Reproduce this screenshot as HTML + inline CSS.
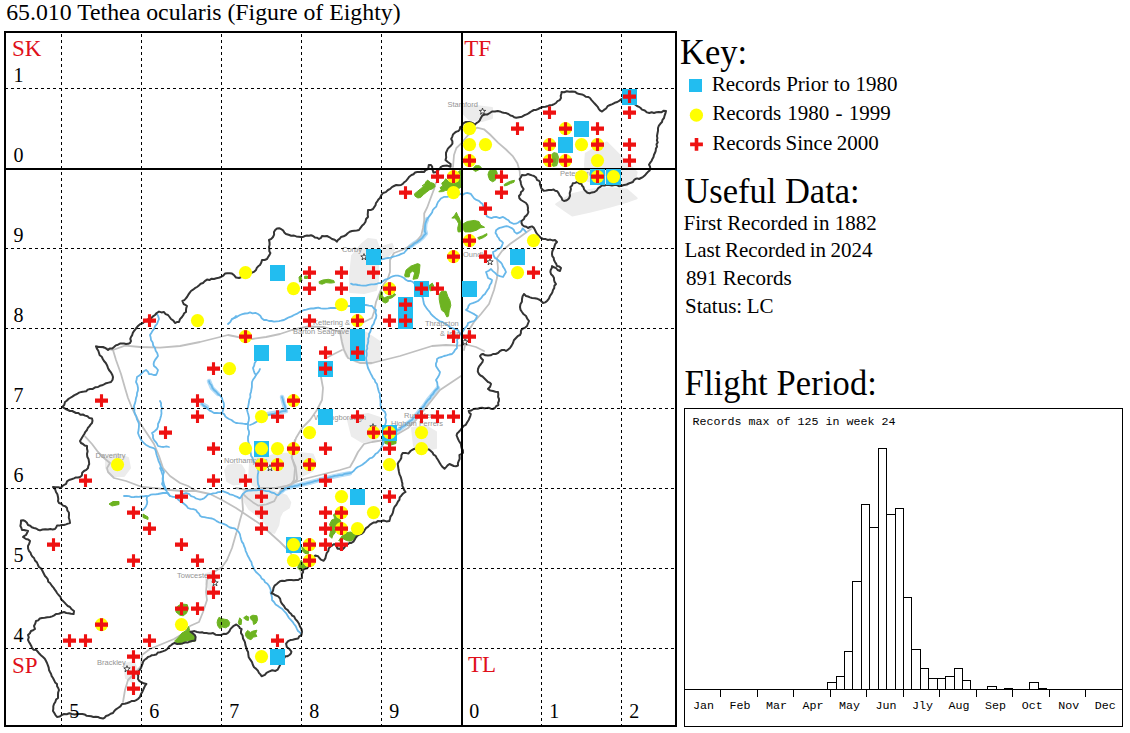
<!DOCTYPE html>
<html><head><meta charset="utf-8"><title>65.010 Tethea ocularis</title>
<style>html,body{margin:0;padding:0;background:#fff}svg{display:block}text{font-family:"Liberation Serif",serif}.m{font-family:"Liberation Mono",monospace}.s{font-family:"Liberation Sans",sans-serif}</style></head><body>
<svg width="1130" height="733" viewBox="0 0 1130 733">
<rect width="1130" height="733" fill="#fff"/>
<text x="6.2" y="20.2" font-size="23.8">65.010 Tethea ocularis (Figure of Eighty)</text>
<clipPath id="mc"><rect x="5" y="32" width="671" height="693.4"/></clipPath>
<g clip-path="url(#mc)">
<g fill="#ececec" stroke="#ececec" stroke-width="2" stroke-linejoin="round">
<polygon points="464,107 476,106 492,108 492,118 482,121 470,120 464,114"/>
<polygon points="585.8,153.5 594.5,148.6 606.9,142.4 615.6,151.1 626.7,162.2 636.7,172.1 635.4,178.3 626.7,185.8 620.5,185.8 600,185 586,180 585,165"/>
<polygon points="556.1,204.3 571,194.4 592,189.5 609.4,188.2 626.7,189.5 636.7,198.2 626.7,201.9 609.4,206.8 589.6,211.8 572.2,215.5 564.8,210.5"/>
<polygon points="362,244 368,239 376,240 379,248 392,244 394,250 388,256 378,262 378,280 376,290 364,293 350,292 350,276 352,256"/>
<polygon points="340,330 348,328 360,330 368,334 380,342 380,360 370,364 356,362 346,356 342,344"/>
<polygon points="348,420 356,416 368,414 380,418 382,432 376,440 362,442 352,436"/>
<polygon points="412,428 426,426 436,432 436,448 426,450 414,446"/>
<polygon points="225.2,470.5 227.9,465.9 234.5,463.9 241.2,465.2 244.5,470.5 243.8,478.5 239.8,483.8 233.2,484.5 227.2,481.1"/>
<polygon points="250.4,459.9 255.8,457.3 269,456.6 274.3,454.6 292.9,453.3 302.2,453.3 312.8,454.6 315.5,461.2 312.8,470.5 304.9,474.5 298.2,478.5 292.9,483.8 285,487.8 274.3,488.5 261.1,488.5 253.1,485.1 249.1,477.2 249.8,466.5"/>
<polygon points="243.8,490.4 255.8,489.1 269,489.8 278.3,493.1 286.3,495.8 290.3,502.4 288.9,507.7 282.3,511.7 279.6,517 278.3,525 274.3,532.9 269,531.6 266.4,525 262.4,519.6 255.8,514.3 249.1,509 245.1,502.4 243.1,495.8"/>
<polygon points="106,458 116,454 128,458 130,468 124,476 112,476 106,468"/>
<polygon points="206,574 214,572 216,582 210,590 206,584"/>
<polygon points="124,664 134,662 138,672 132,682 126,678"/>
</g>
<g fill="none" stroke="#b4dcf7" stroke-width="4.5" stroke-linecap="round" stroke-linejoin="round">
<path d="M427.1 219.2 L425.3 223.8 L424.8 229.6 L425.9 233.6 L422.5 237.6 L419 240.5 L414.4 243.4 L409.8 246.9"/>
<path d="M209 381 L212 388 L218 394"/>
<path d="M202 404 L207 407"/>
<path d="M282 397 L285 408"/>
<path d="M268 414 L286 411"/>
<path d="M438 388 L433 394 L428 400 L424 406 L418 413 L412 420 L404 426 L396 432 L390 436"/>
<path d="M350 473.2 L339.4 475.2 L330.1 477.2 L319.5 479.8 L310.2 482.5 L302.2 484.5 L292.9 486.5 L285 488.5 L281 491.8"/>
</g>
<g fill="none" stroke="#c0c0c0" stroke-width="1.8" stroke-linecap="round" stroke-linejoin="round">
<path d="M296.9 479.8 L290.3 485.1 L282.3 489.1 L277 495.8 L274.3 501.1 L266.4 504.4 L258.4 505.7 L253.1 502.4 L247.8 498.4 L243 494"/>
<path d="M294.9 440 L292.9 448 L291.6 457.3 L295.6 466.5 L296.9 477.2 L296.9 479.8"/>
<path d="M453 167 L454 155 L456.4 148 L461 143.7 L469 134 L477 127.6 L484 129.3 L490 134.5 L498 142.6 L506 149.5 L513 156.4 L517.4 163.3 L519.7 171.3 L520 176"/>
<path d="M531 229 L520 237 L510 244 L502 251 L497 258 L498 268 L497 278 L494 290 L489 304 L481 314 L474 322 L469 330 L466 340 L464 350"/>
<path d="M435.7 183 L434 189.3 L430.5 198.5 L427.1 207.7 L424.2 213.5 L424.2 220.4 L423 228 L421.3 235.3 L416 242 L410 246 L402 250 L394 253 L390 260 L390 272 L388 278 L384 284 L380 292 L376 302 L374 312 L372 318 L364 322 L356 324"/>
<path d="M96 346 L113 350 L125 345.6 L140 347 L160 347.6 L180 346 L200 342 L216 338 L228 335 L238 337 L252 339 L266 337 L280 334 L292 330 L308 326.5 L324 327 L340 332 L342 342 L344 350 L348 358 L360 363 L372 363 L384 360 L400 356 L416 351 L432 346 L446 345 L458 345.6 L468 345 L476 347 L484 351"/>
<path d="M342 350 L334 354 L326 358"/>
<path d="M113 350 L116 360 L121 374 L125 388 L128 398 L132 408 L138 420 L146 432 L154 444 L159 456 L163 468 L170 476 L180 483 L188 486 L196 491 L210 494 L222 500 L236 508 L248 516 L260 524 L270 533 L280 542 L288 550 L296 560 L300 569 L302 576"/>
<path d="M85 436.4 L92 444 L98 452 L104 458 L110 463 L107 468 L108 472 L114 478 L126 481 L134 484 L142 487 L158 488.4 L170 490 L182 491 L196 491"/>
<path d="M236 488 L248 490 L262 488 L276 488 L286 486 L296 482 L304 479 L316 476 L328 473 L340 470 L350 467 L354 460 L358 452 L364 444 L372 442 L384 440 L396 435 L408 428 L416 420 L424 410 L432 400 L440 390 L452 382 L461 376"/>
<path d="M321 377 L323 388 L322 400 L317 410 L310 420 L302 428 L296 438 L293 448 L292 458 L295 468 L294 480 L290 486"/>
<path d="M236 534 L232 548 L227 560 L222 567 L214 572 L207 580 L206 592 L207 600 L205 606 L203 612 L199 622 L190 626 L184 633 L174 639 L162 644 L150 649 L142 655 L141 666 L134 674 L128 680 L125 690 L123 702"/>
<path d="M242 496 L243 510 L240 520 L238 528 L236 534"/>
</g>
<g fill="none" stroke="#68b8ea" stroke-width="1.8" stroke-linecap="round" stroke-linejoin="round">
<path d="M463.3 194.5 L465.1 193.3 L467.3 192.8 L470.8 193.9 L472.5 196.2 L474.2 198.5 L476.4 199.9 L478.9 200.8 L480.5 202.4 L482.3 203.7 L483.4 206.5 L485 209 L485.7 211.4 L485.9 214 L486.9 216.4 L489.2 217.3 L491.5 218.1 L493.7 217.1 L496.1 216.9 L499.6 218.1 L503 216.9 L504.8 218 L506.5 219.2 L508.5 220.3 L509.9 222.1 L513.4 223.8 L515.8 223.7 L518 222.7 L520.3 221"/>
<path d="M526 232 L524.4 230.1 L522.6 228.4 L521.7 230.3 L520.3 231.9 L516.8 233.6 L514.5 231.9 L513.8 229.9 L512.2 228.4 L508.8 226.7 L506.5 226.2 L504.2 226.7 L501.9 227.3 L499.6 227.9 L497.8 228.9 L496.1 230.2 L495.5 233 L496.7 234.6 L497.3 236.5 L498.7 238 L499.6 239.9 L501.5 241.2 L503 242.8 L501.9 245.7 L500.6 248 L498.7 248.6 L497 249.5 L495.2 251 L493 252 L493.5 255.2 L495 258 L497.1 259.1 L498.7 260.7 L500.5 262.2 L502 264 L503.1 266.8 L504.8 269.3 L506 272 L504.5 274.5 L503 277 L499.9 276.2 L497 275 L495.1 272.9 L492.9 271.1 L491 269 L488.7 270.8 L486 272 L487.1 275 L488 278 L490.1 278.8 L492 280 L491.4 282.8 L489.7 285.2 L489 288 L487.5 289.9 L486.2 291.9 L485 294 L483 295.5 L481.6 297.6 L479.8 299.3 L478 301 L475.4 302.1 L472.7 303.1 L470 304 L468.5 305.9 L467.8 308.3 L466 310 L468 311 L470 312 L472 313 L474.6 314.4 L477 316 L476 318.8 L474 321 L470.9 321.8 L468 323 L467.5 325.2 L466 327 L464.4 328.7 L463.3 330.7 L461.9 332.6 L460 334 L459.3 336.2 L458.4 338.2 L457 340 L457.4 342.7 L456.8 345.3 L457 348 L455.1 349.8 L453.8 352.1 L452 354 L449.3 354.5 L446.7 355.4 L444 356 L441.7 357 L439.2 357.6 L437 359 L436.9 361.4 L435.9 363.6 L436 366 L437.2 368.1 L438.5 370.1 L440 372 L439.2 374.9 L437.7 377.5 L436 380 L437.2 382.5 L437.5 385.3 L438 388 L436 389.7 L434.3 391.7 L433 394 L431 395.8 L430 398.3 L428 400 L426.5 401.9 L425.1 403.8 L424 406 L421.7 408.3 L420 411 L418.2 412.6 L417.1 414.9 L415.5 416.6 L413.4 418 L412 420 L409.8 421.3 L407.7 422.7 L406 424.5 L404 426 L401.7 427.2 L400.2 429.3 L397.7 430.1 L396 432 L393.7 433.2 L392.1 435.1 L390.3 436.9 L388 438 L386.3 440 L384.5 441.9 L383 444 L381.8 446.4 L380.8 448.9 L379 451 L377.5 452.8 L375.4 454.1 L374 456 L372.2 457.7 L369.7 458.3 L368 460 L366.2 461.7 L364.2 463.3 L362.3 464.8 L360 466 L357.7 467 L355.7 468.5 L354.1 470.5 L352.3 472.1 L350 473.2 L347.3 473.5 L344.6 473.8 L342.1 475.2 L339.4 475.2 L337 475.6 L334.7 475.8 L332.4 476.7 L330.1 477.2 L327.4 477.8 L324.7 478.2 L322.2 479.4 L319.5 479.8 L317.2 480.7 L314.8 481 L312.5 481.8 L310.2 482.5 L307.5 483.1 L304.9 484 L302.2 484.5 L299.8 484.5 L297.6 485.7 L295.2 485.8 L292.9 486.5 L290.2 486.7 L287.7 487.9 L285 488.5 L283.3 490.5 L281 491.8 L279.9 493.6 L278.3 495.1 L276.1 494.5 L274.3 493.1 L271.5 492.5 L269 491.1 L266.3 491.1 L263.7 490.4 L261.1 489.8 L258.4 490.1 L255.8 490.3 L253.1 490.4 L250.9 490.5 L248.7 490.7 L246.5 491.1 L244.4 492.6 L242.5 494.4 L241.3 496.5 L239.8 498.4 L237.2 496.9 L234.5 495.8 L232.3 494.8 L229.9 494.4 L227.9 493.1 L225.3 492.1 L222.6 491.1 L220.4 492 L218.1 492.2 L215.9 493.1 L213.2 493.3 L210.7 494.2 L208 494.4 L206.1 496.5 L204 498.4 L202 499.1 L200 499.7 L197.9 499 L195.8 498.4 L194 497 L191.1 496.1 L188.9 493.8 L186 493 L183.4 493.8 L181 495.1 L178.4 495.8 L176 497 L173 496.8 L170 496 L168 493 L165.5 493 L163 493 L160.5 493.5 L158 494 L155.6 494.4 L153.1 494.3 L150.7 494.7 L148.5 496.1 L146 496 L143.6 496.3 L141.2 496.5 L138.8 496.8 L136.4 496.7 L134 497 L131.5 497.1 L129 496.2 L126.5 495.9 L124 496"/>
<path d="M462 193.5 L459.6 194.4 L457 194.5 L454.7 195.5 L452.1 195.5 L449.6 196.1 L447.2 196.8 L444.3 196.8 L440.9 198.5 L439.5 200.3 L438 202 L437 204.3 L436.3 206.6 L434.5 208.2 L432.8 210 L432.1 212.5 L430.5 214.6 L428.8 216.9 L427.1 219.2 L426.1 221.5 L425.3 223.8 L425 226.7 L424.8 229.6 L424.9 231.7 L425.9 233.6 L424 235.4 L422.5 237.6 L420.8 239.2 L419 240.5 L416.9 242.2 L414.4 243.4 L412.3 245.5 L409.8 246.9 L407.6 248.7 L405.8 250.8 L404 253 L401.3 253.9 L398.7 255.1 L396 256 L393.3 256.7 L390.7 257.6 L388 258 L385.7 258.3 L383.4 259.1 L381 259"/>
<path d="M351 283.6 L353.2 284.6 L355.7 284.5 L358 285 L360.6 285.4 L363.3 285.7 L366 285.6 L368.6 284.9 L371.3 284.3 L374 284.4 L376.4 284 L378.6 283.1 L381 283 L382.9 281.2 L385 279.6 L387.2 279.1 L389.2 278.2 L391 277 L393.3 276.1 L395.6 275.6 L398 275.6 L401.1 276.5 L404 278 L405.8 279.8 L408 281 L410.6 281 L413 282 L414.9 284.2 L416.7 286.4 L418 289 L419.7 291.1 L420.6 293.7 L422 296 L423 298.6 L423.4 301.3 L424 304 L425.1 306.1 L426.5 308.1 L428 310 L429.7 311.9 L431.1 314.2 L433 316 L435.5 318.1 L438 320 L439.8 321.3 L442.1 321.8 L444 323 L446.1 324.1 L448 325.6 L449.7 327.2 L452 328 L455 329.1 L458 330 L459 332 L460 334"/>
<path d="M228 324 L230.4 321.8 L232 319 L234.8 318 L237.4 316.6 L240 315 L242.4 314.1 L245 313.5 L247.6 313.3 L250 312.4 L252.6 313.3 L255.4 312.9 L258 314 L260.3 315.7 L261.7 318.3 L264 320 L266.6 320 L269 321 L271.5 321 L274 321.6 L276.5 321.4 L279.1 321.2 L281.5 320.5 L284 320 L286.4 318.6 L288.9 317.3 L291.6 316.4 L294 315 L296.6 313.9 L299 312.4 L301.5 311.2 L304 310 L306.4 309.6 L308.8 308.9 L311.1 308.5 L313.6 308.5 L316 308 L318.4 307.6 L320.8 308.3 L323.2 308.6 L325.6 308.7 L328 308.4 L330.7 308 L333.3 308 L336 308 L338.9 308.1 L341.6 307 L344.5 307.3 L347.2 306.1 L350 306 L352.7 306.2 L355.3 305.2 L358 305.7 L360.7 305.7 L363.3 305.2 L366 305 L369 305.6 L372 306 L373.7 308.3 L376 310 L375.5 312.7 L376.4 315.3 L376 318 L374.6 320.7 L373.8 323.6 L372 326 L371.1 328.7 L370.4 331.5 L369 334 L369 336.5 L368.1 338.8 L368.3 341.3 L367.8 343.7 L367 346 L367.3 348.4 L366.3 350.8 L366.7 353.2 L366.7 355.6 L366 358 L366.4 360.5 L366.8 363 L367.4 365.5 L368 368 L369.3 370.7 L370.6 373.4 L372 376 L373 378.1 L374.7 379.9 L375.4 382.2 L377 384 L377.5 386.6 L378.1 389.1 L378.8 391.6 L380 394 L379.8 396.8 L380.4 399.6 L380.6 402.4 L380.5 405.2 L381 408 L382.9 410.1 L385 412 L385.8 414.6 L385.2 417.4 L386 420 L385.8 422.6 L385 425 L384.6 427.5 L384 430 L384.2 432.8 L383.5 435.6 L383.3 438.4 L382.9 441.2 L383 444"/>
<path d="M256 361 L254.6 363.2 L254.2 365.7 L253 368 L253.7 370.5 L254.5 372.9 L256 375 L254.8 377.4 L253.1 379.5 L252 382 L251.9 384.5 L251.9 387 L251.4 389.5 L251 392 L250.2 394.4 L250.4 397.1 L249.3 399.5 L249 402 L248.5 404.7 L248 407.4 L247 410 L247.7 412.6 L248.5 415.3 L249 418 L248.7 420.7 L247.9 423.3 L248 426 L247.9 428.7 L249 431.3 L249 434 L248 436.9 L248 440 L248.4 442 L249.1 444 L249.3 446.2 L250.4 448 L250.3 450.7 L250.8 453.3 L251.1 455.9 L252.5 457.8 L253 460.1 L254.2 462.2 L255.8 463.9 L256.5 466.6 L257.9 469.1 L258.4 471.9 L257.8 474.5 L257.6 477.1 L257.7 479.8 L257.8 482.1 L258.1 484.4 L259.1 486.5 L258.5 490"/>
<path d="M256 375 L257.5 373.1 L259 371.2 L260 369"/>
<path d="M157 314 L158.3 316.4 L159 319 L157.9 321.5 L157 324 L155.1 326.2 L154 329 L152.5 330.9 L151.3 333 L150 335 L150.7 337.5 L151 340 L152.7 342.5 L153.2 345.6 L155 348 L155.7 350.8 L157.3 353.2 L158 356 L156.6 357.9 L155.1 359.9 L154 362 L153.6 364 L154 366 L156.2 367.8 L158 370 L157.2 372.6 L156 375 L153.6 375 L151.3 374.2 L149 374 L147.9 371.7 L146 370 L143.8 371.3 L142 373 L139.7 375.3 L137 377 L136.6 379.5 L136 382 L137.4 384.9 L138 388 L137.9 390.6 L137 393 L136.9 395.6 L136 398 L135.6 400.7 L134.9 403.4 L134 406 L134.4 408.7 L134.3 411.4 L135 414 L136.3 416.4 L136.9 419 L138.1 421.5 L139 424 L138.9 427 L138.6 430 L138 433 L139.1 435.8 L140.3 438.5 L142 441 L143.8 442.9 L145.7 444.7 L148 446 L150.2 447.2 L152.8 447.8 L155 449 L155.9 451.3 L156.3 453.7 L157 456 L157.9 458.7 L158.7 461.4 L160 464 L160.9 466.9 L162.4 469.5 L164 472 L163.1 474.6 L163.1 477.3 L163 480 L163.6 482.6 L164.2 485.1 L165.3 487.5 L166 490 L167.1 492.2 L168.3 494.2 L170 496"/>
<path d="M160 401 L161.1 403.2 L161 405.8 L162 408 L161.3 410.6 L161.5 413.3 L161 416 L160.2 418.8 L159.3 421.5 L158 424 L158 426.6 L157 429 L154.7 431.2 L152 433 L153 435.2 L153 437.8 L154 440 L155.6 441.8 L157 443.8 L158 446 L160.7 446.7 L163.5 447 L166.3 446.3 L169 447"/>
<path d="M160 468 L161.2 470.6 L162 473.3 L163 476 L162.6 478.7 L162.8 481.4 L162 484 L163.3 486 L164.2 488.3 L166 490"/>
<path d="M209 381 L209.8 383.5 L211.6 385.4 L212.4 387.9 L214 390 L216.2 391.8 L218 394 L220.2 395.8 L222 398 L222.6 400.7 L223.8 403.2 L224 406 L223.4 408.4 L222.9 410.7 L222 413 L224.1 414.1 L225.3 416.3 L227 417.8 L229 419 L231.5 420 L233.6 421.8 L236 423 L238.4 423.2 L240.8 423.3 L243.2 423.7 L245.6 424 L248 424"/>
<path d="M202 404 L203.8 405.9 L206.2 407.1 L208 409 L209.7 410.7 L212 411.7 L214 413 L216.7 412.9 L219.3 413.1 L222 413"/>
<path d="M282 397 L282.8 399.2 L283.3 401.6 L284.1 403.8 L285 406 L285.3 408.5 L286 411 L283.4 411.1 L280.9 411.7 L278.6 412.9 L276 413 L273.4 414 L270.7 414.4 L268 415 L266.1 416.4 L263.7 417.1 L261.9 418.5 L260 420 L257.5 421.3 L255.1 422.6 L252.6 424 L250 425"/>
<path d="M236 316 L234.3 317.9 L232 319"/>
<path d="M183 503 L184.9 504.5 L186.6 506 L188 508 L190.6 508.8 L193.4 509.1 L196 510 L197.2 512 L199 513.6 L200 515.7 L202 516.9 L204.3 517.2 L206.6 517.7 L209.3 518.1 L212 518.5 L214.6 519.6 L216.6 521.1 L218.8 522.3 L221.2 523 L223.5 523.9 L225.9 524.8 L227.9 526.3 L229.9 527.5 L232.2 528 L234.5 528.3 L236.5 529.9 L238.5 531.6 L239.9 534.1 L240.5 536.9 L241.1 539.3 L241.8 541.6 L243.3 543.6 L244 546 L245.1 548.3 L245.6 550.8 L246.7 553.1 L247.6 555.5 L248.9 557.7 L250 560 L251.5 562.3 L252 565 L253.3 567.4 L254.4 569.8 L256 572 L258.1 573.9 L260.2 575.8 L261.6 578.4 L264 580 L265.1 582.3 L267.4 583.7 L268.9 585.7 L270 588 L270.8 590.3 L270.6 592.8 L271.5 595.2 L272 597.5 L272 600 L274 602 L275.6 604.4 L278 606 L280 607.6 L282.3 609 L284 611 L286 613.1 L287.5 615.5 L289 618 L290.8 619.9 L292.6 621.8 L294 624 L295.7 626.1 L296.8 628.6 L298 631 L299.7 632.3 L301 634"/>
<path d="M147 497 L146.6 499.3 L147.3 501.7 L147 504 L146 506.2 L144.7 508.2 L143 510"/>
<path d="M176 497 L177.8 499.2 L180 501 L183 503"/>
</g>
<g fill="#6db321" stroke="#6db321" stroke-width="1" stroke-linejoin="round">
<polygon points="414.4,193.9 417.9,191 420.7,188.7 424.2,185.9 425.9,181.8 427.6,180.1 430.5,182.4 434,183.6 435.1,186.4 432.8,188.7 429.4,189.9 426.5,192.2 423.6,194.5 420.7,197.4 417.9,198 415,196.2"/>
<polygon points="438.8,191.8 441.1,189.5 440.1,187.6 442.6,185.9 441.8,183 444.1,181.3 445.7,178.7 448.4,181.3 451.2,183 455.8,182.4 458.7,181.3 460.2,174.4 458.1,172.1 460.4,170.3 461,187 458.7,188.7 455.8,187 452.4,188.7 448.9,189.9 445.5,190.5 442.6,191.6"/>
<polygon points="488,174.4 489.2,170.9 492.7,169.8 496.1,170.3 497.3,173.2 496.1,176.7 495.5,180.1 492.7,181.8 489.8,180.1 488.6,177.2"/>
<polygon points="504.2,184.5 507.6,182.4 511.1,181 514.5,180.3 514,182.2 510.5,183.6 507,185.3 504.4,185.9"/>
<polygon points="472.5,169.2 475.4,165.7 479.4,165.7 481.2,167.5 478.9,169.8 475.4,171.5"/>
<polygon points="451.8,218.1 454.7,215.2 456.4,212.3 457.6,215.2 459.3,218.1 460.4,221.5 460.4,231.9 458.1,231.9 457.6,228.4 458.7,223.8 457,220.4 454.7,218.1"/>
<polygon points="463.3,223.8 467.3,221.5 474.2,220.4 478.9,221.5 480.6,225 484.6,227.3 480,227.9 476.6,230.2 470.8,231.9 465,231.9 463.3,229.6"/>
<polygon points="477.7,237.6 482.3,235.9 486.9,233.6 486.9,235.3 483.5,237.6 478.9,239.4"/>
<polygon points="404.6,275.4 406.1,270 410.7,266.2 417.6,263.6 420,264.6 419.2,273.1 417.6,278.5 413,279.3 414.6,273.1 413,270.8 409.9,273.1 409.2,276.9 405.3,276.9"/>
<polygon points="319.1,281.6 322.9,280 328.3,279.3 333.7,280.5 334.5,282.6 330.6,283.1 326,282.6 322.2,284.2 319.4,283.6"/>
<polygon points="299,277 301,275.5 302,281 299.5,282"/>
<polygon points="304.5,276.2 307.5,276 307.5,278.5 304.5,278.5"/>
<polygon points="439.2,294.7 441.5,291.3 446.1,291.3 447.7,296.2 450,300.8 450.8,305.4 449.2,310.8 448.5,316.2 446.9,317 444.6,312.4 441.5,310.1 440,303.9 439.2,299.3"/>
<polygon points="429.2,285.4 432.3,283.1 433.8,286.2 433,290.3 430,290.8"/>
<polygon points="381.2,291.3 382.5,292.3 382.2,296.2 384.5,297.7 388.4,296.2 392.2,295.4 394.5,293.6 395.8,294.7 392.2,297.7 388.4,299 388.1,301.6 385.3,303.1 382.5,301.6 381.5,298.5 379.2,299.6 379.9,294.7"/>
<polygon points="329.5,536 331.2,528 329.5,524.5 331.8,519.9 334.7,518.8 333.5,514.7 335.2,513.6 336.4,517.6 339.8,519.3 341,521.6 337.5,523.4 336.4,528 335.2,532.6 332.9,535.5 331.8,538.3"/>
<polygon points="338.7,540.6 342.1,536 346.7,532.6 350.8,532 355.4,534.3 356,536 353.6,539.5 350.2,541.2 346.7,540.6 343.3,538.9 340.4,541.2"/>
<polygon points="301.9,547 304.7,548.7 308.8,551.6 308.2,553.9 304.7,553.3 302.4,551"/>
<polygon points="298.4,563.6 301.3,560.2 303,563.6 306.5,566.5 303,569.4 300.1,570 297.8,568.3"/>
<polygon points="109,504 113,501.5 119,501.5 119,504.5 112,506"/>
<polygon points="143,514 148,517 148,519.5 143,517.5"/>
<polygon points="175.9,611.9 177.3,606.5 181.2,603.9 187.2,604.6 188.5,608.5 186.5,613.2 183.2,615.8 179.9,615.2"/>
<polygon points="174.6,641.1 178.6,637.1 181.9,633.1 186.5,630.4 188.5,626.5 189.9,631.1 193.2,633.8 195.6,637.1 195.2,641.1 191.2,641.7 187.2,640.4 184.6,643.1 179.9,644.4 176.6,643.1"/>
<polygon points="217.7,619.8 219.1,617.2 221.1,618.5 224.4,619.2 227.7,619.8 229.7,622.5 229,625.8 225.7,627.8 222.4,627.1 219.7,628.5 217.7,625.8 217.1,622.5"/>
<polygon points="238.3,622.5 239.7,617.8 241.6,619.8 241.2,624.5 239,624.5"/>
<polygon points="243.6,617.8 246.3,615.8 248.9,617.2 248.3,620.5 245.6,619.8"/>
<polygon points="250.3,616.5 252.9,615.2 256.9,615.8 257.6,619.8 256.2,623.1 253.6,624.5 252.9,621.2 250.9,619.2"/>
<polygon points="245.6,633.1 247.6,630.4 250.3,632.4 252.9,631.1 256.9,630.2 255.6,633.8 256.9,636.4 253.6,637.1 250.9,639.7 247.6,638.4 245.6,635.8"/>
<polygon points="385,438 396,438 396,443.5 391,445 385,443.5"/>
<polygon points="428.8,181.7 425,184 422,186"/>
</g>
<g class="s" font-size="7.5" fill="#949494">
<text class="s" x="447.5" y="106.5">Stamford</text>
<text class="s" x="560" y="175.5">Peterborough</text>
<text class="s" x="342" y="252">Corby</text>
<text class="s" x="463" y="256.5">Oundle</text>
<text class="s" x="313" y="325">Kettering &amp;</text>
<text class="s" x="293" y="333.5">Barton Seagrave</text>
<text class="s" x="425" y="326">Thrapston</text>
<text class="s" x="440" y="335.5">&amp; Islip</text>
<text class="s" x="314" y="419.5">Wellingborough</text>
<text class="s" x="404" y="418">Rushden</text>
<text class="s" x="391" y="426">Higham Ferrers</text>
<text class="s" x="95.5" y="457.5">Daventry</text>
<text class="s" x="224" y="463">Northampton</text>
<text class="s" x="177" y="578">Towcester</text>
<text class="s" x="97" y="665">Brackley</text>
</g>
<path d="M406 181 L407.7 178.8 L409.3 176.7 L411.5 175 L413.5 174.2 L415.1 172.5 L417.3 172 L419.5 172.1 L421.8 171.8 L424 172 L425.7 170 L428.2 169 L428.5 167 L428.8 165 L431 165 L432.2 166.8 L432.2 169 L432.9 170.7 L433.4 172.5 L436.5 172 L437.7 170.1 L439.7 169 L440.7 167.1 L442.6 166 L444.9 165.7 L447.2 165.6 L450.6 166.7 L450.6 164 L447.8 162 L445.5 160 L446.2 157.5 L446 155 L446 152.7 L447 150.6 L447.9 148.6 L449.5 147 L451.1 145.5 L452.4 143.7 L452.4 141.2 L451.2 139 L452.2 136.8 L453 134.5 L454.6 132.9 L456.4 131.6 L458.5 131 L459.8 129.3 L460.2 127.2 L462.2 126 L462.7 124 L464.2 122.7 L466 122 L469 122 L471.1 122.4 L473.1 123.3 L474.8 124.7 L476.4 123.1 L478.3 122 L479.8 120.4 L480.6 118.4 L482.3 115.5 L484.8 114.5 L487.5 114.4 L489.8 113 L492 111.5 L494.9 111.4 L497.8 111 L499.8 111.4 L501.6 112.2 L503.6 112.7 L506.1 113.1 L508.4 114 L510.5 115.5 L512.6 115.9 L514.2 117.3 L516.2 117.8 L519.1 117.2 L522 116.7 L524.2 115.3 L526.6 114.4 L528.5 113.4 L530.2 112.1 L532 111 L533.9 110 L536.1 109.9 L538.1 109 L540 108 L542.6 107 L545.4 106.8 L548 106 L550 105.3 L552.2 105 L554.1 104.1 L556 103 L557.5 101.1 L559.8 100.1 L561 98 L560.7 95.9 L561.3 94 L561.6 92 L564.2 92.3 L566.8 91.3 L569.4 91.7 L572 91.6 L574.7 91.7 L576.9 93.2 L579.4 94.1 L582 94.4 L584 95.4 L585.8 96.7 L588.1 96.9 L590 98 L591.3 99.9 L592.9 101.6 L594.4 103.3 L596 105 L597.5 106.6 L598.6 108.6 L600 110.4 L602 111.6 L604 109.9 L606.1 108.5 L607.6 106.2 L610 105 L612.4 104.1 L614.7 102.8 L617.3 102 L619.5 100.6 L621.6 99 L624.1 99 L626.6 99.5 L629 100 L630.9 101.7 L633.4 102.5 L635 104.5 L637 106 L638.9 106.8 L640.6 108 L642 109.6 L644.8 110.5 L647 112.4 L649.3 113 L651.7 112.3 L654 113 L656.3 112.3 L658.8 112 L661.3 112.3 L663.5 110.8 L666 111 L665.4 113.4 L664.6 115.6 L664 118 L662.5 119.8 L662 122 L660.3 123.8 L658.9 125.7 L658 128 L658 130.7 L657.5 133.3 L657 136 L657.4 138.1 L656.9 140.3 L657.7 142.4 L656.5 144.3 L657 146.7 L655.9 148.6 L655.7 150.8 L655 152.8 L654 154.8 L653.5 157 L652.4 158.9 L651.5 161 L650.1 162.8 L649 164.7 L650 166.4 L650.3 168.4 L649.6 170.6 L647.8 172.1 L646.2 173.8 L644.7 175.6 L642.9 177.1 L641 178 L639.1 179 L637.2 178.4 L635.4 179 L633.9 180.3 L632.9 182 L630.8 182.8 L628.7 183.5 L626.7 184.5 L624.2 184.9 L621.8 185.8 L619.3 186.3 L616.9 185 L614.5 185.1 L612 185.4 L609.5 184.9 L607 184.9 L604.5 185.5 L602 185.3 L600.2 186.9 L598.2 188.2 L596.7 190.5 L594.5 192 L592 192.4 L589.6 193.2 L587.4 192.8 L585.8 191.3 L584.1 189.4 L583.4 187 L582.1 185.7 L581.5 183.9 L579.2 183.4 L577.2 182 L575.1 182.9 L572.8 183.3 L572.1 185.5 L570.4 187 L570.9 189.1 L570.4 191.2 L569.7 193.2 L570 195.8 L569.1 198.2 L567.7 199.6 L566 200.6 L564 201 L562.3 200 L561.5 197.6 L559.8 195.7 L558.7 193.4 L557.3 191.3 L555.2 190.8 L553.6 189.5 L551.2 190.1 L548.7 190.1 L546.2 190.6 L543.7 190.7 L541.2 188.2 L540.6 186.2 L539.9 184.2 L540 182 L538.8 180.6 L537 180 L536.1 177.6 L534 176 L532 175.4 L530 174.7 L528 174 L526.1 174.9 L524.1 175.2 L522 175 L521 177.1 L519.6 179 L520.6 181.4 L521 184 L521.9 186.7 L523.6 189 L522.7 190.8 L521 192 L520.6 194.3 L519 196 L519.4 198.3 L521 200 L523.5 201.5 L526 203 L527.5 205.3 L528 208 L527.8 210 L528.4 212 L527.6 214 L526.4 215.6 L524.7 216.9 L524 219 L521.6 221 L521.5 223.1 L522.4 225 L524.1 226.2 L526.3 226.7 L528 228 L529.9 227 L532 226.4 L533.9 227.9 L535 230 L536.2 232.7 L538 235 L539.5 236.5 L541 238 L543.2 239 L545.7 239.1 L548 240 L550.3 239.6 L552.7 240.4 L555 240 L557 242 L555.4 243.7 L554.6 245.8 L554 248 L552.9 249.9 L552.2 251.9 L552 254 L552.3 256.1 L553.7 257.9 L554 260 L555 262 L556.2 263.9 L557 266 L559.3 266.4 L561 268 L560 271 L557.6 270 L556 268 L553.9 267.3 L552 266 L551.8 268.1 L550.7 269.9 L550.4 272 L551.1 274.3 L552.9 276 L554 278 L554.1 280.2 L554.7 282.2 L556 284 L554.4 285.7 L554.2 288.1 L553 290 L552.4 292.2 L551.3 294.2 L550 296 L548.9 298.7 L547 301 L545.2 302.4 L543 303 L541.6 301.4 L540 300 L537.5 298.8 L534.8 298.2 L532 298 L530 297.4 L528.1 296.5 L526 296 L524 294 L522.6 296.3 L522 299 L521.9 301.8 L520.4 304.3 L520 307 L520.5 309.7 L522 312 L523.7 314.3 L526 316 L527.2 318.7 L529 321 L528 323.5 L527 326 L524.7 327.9 L522 329 L520.9 330.9 L520.9 333.1 L520 335 L517.7 336.2 L516 338 L513.9 340.2 L513 343 L511.6 345.6 L510 348 L508.1 349.6 L506 351 L504.2 349.9 L502 350 L499.8 351.2 L498 353 L495.6 354 L493 354 L490.7 355.3 L488 355.6 L485.4 355.3 L483 354 L481.2 354.5 L480 356 L481.2 358.3 L483 360 L482.4 362.2 L481 364 L479.1 366.3 L478 369 L477.8 371.6 L479 374 L480.5 375.5 L482.5 376.5 L484 378 L486 380 L488 382 L489.8 382.6 L491 384 L490.1 386.8 L488 389 L490.3 390.6 L493 391 L495.5 391.7 L498 392 L498.3 394.3 L498.1 396.8 L499 399 L498.9 401 L498.1 402.9 L498.4 405 L496.3 406 L494.9 408 L492.8 409 L490.8 408.7 L489 407.8 L486.7 408.1 L484.3 408.2 L482 407.8 L479.9 408 L477.8 408.7 L475.7 408.8 L473.6 409 L471.3 410.5 L468.7 411 L469.3 412.8 L470.8 414 L470.3 416.1 L469.5 418 L468.7 420 L467.2 422.3 L465.8 424.8 L463.7 425.8 L462.3 427.7 L460.6 429.9 L458.7 432 L457.1 433.4 L456.6 435.5 L457.6 438 L458.7 440.4 L459.8 442.2 L460.9 444 L461.2 446 L461.6 448 L462.9 450.2 L463 452.8 L461.2 454 L459.4 455 L459.6 457.1 L459.6 459.1 L458.7 461 L457.9 463.2 L458 465.5 L456 466.2 L453.8 466 L451.6 465 L449.5 464 L447.6 465.4 L446.1 467.1 L444.5 468.8 L442.6 467.1 L441 465 L439.6 462.7 L438.2 460.3 L436.7 458 L435.6 455.9 L433.5 454.7 L432.5 452.5 L430.8 450.9 L429 449.4 L426.2 448.9 L423.6 448.1 L421 447 L418.6 447.3 L416.3 448.3 L414 449 L412.2 449.9 L410.5 451 L408.4 453.6 L405.6 452.9 L402.7 453 L401.4 455.3 L401.3 458 L400.2 460 L398.8 461.8 L397.7 463.8 L398.1 466.5 L398.5 469.3 L399 472 L399.5 474.4 L400.6 476.6 L401.3 479 L401.8 481.3 L402.4 483.5 L402.3 485.9 L403.4 488 L404.2 490.1 L405.5 492 L403.1 493.5 L401.3 495.7 L399.7 497.4 L399.4 499.8 L398 501.5 L397 503.5 L396.2 505 L394.7 506.6 L393.8 508.6 L393.3 510.7 L392.8 512.9 L391.9 514.8 L390.5 516.5 L390 518.8 L389.3 521.1 L386.4 521.4 L383.6 520.5 L380.7 521.2 L377.8 521.1 L376.1 522.4 L373.9 522.4 L372.1 523.4 L369.8 524.8 L368 526.8 L365.9 528.2 L364.6 530.3 L363.5 532.3 L361.7 533.7 L359.3 534.6 L357.1 536 L355.8 537.6 L354.8 539.5 L353.4 541.6 L351.3 542.9 L349.4 543 L347.9 544.1 L345.7 545.3 L344.4 547.5 L342.9 549 L341 549.8 L339.4 548.6 L337.5 548.7 L336.8 547 L336.4 545.2 L334.1 544.1 L332.4 545.3 L330.6 546.4 L328.8 548.4 L328.3 551 L326.7 553.1 L326 555.6 L325.3 558.4 L323.7 560.8 L320.9 559.6 L319.4 558 L318 556.2 L315.1 555.6 L313.7 557.7 L312.6 560 L311 562 L310 564.3 L308.5 566.3 L307 568.3 L304.9 568.9 L303 570 L303.1 572.2 L301.9 574 L301.9 576 L302 578 L300 578.7 L298.2 580 L296 580 L293.7 580.2 L291.4 580 L289.1 580 L286.7 580.3 L284.5 581.1 L282.1 580.7 L280 581.2 L278.4 582.6 L276.8 584 L274.6 585.6 L273.5 588 L273 590.8 L271.5 593.3 L273.6 594 L275.5 595.3 L278.2 596.4 L280.1 598.6 L280.7 601.4 L282.1 603.9 L284 606 L285.4 608.5 L287.8 610.1 L289.4 612.5 L291 613.8 L292.2 615.6 L294.1 616.5 L295.4 619.1 L297.4 621.2 L299 623.7 L300 626.5 L301.5 629 L302 631.8 L301.4 635.1 L299.3 636.3 L298.1 638.4 L295.4 639 L292.7 639.7 L290.3 640.1 L288.1 641.1 L286.1 643.7 L286.8 647 L289.4 649 L291.4 651.7 L290.9 653.6 L289.4 655 L287.6 656.2 L285.4 656.3 L284 658.5 L283 661 L281.6 663.1 L280.1 665 L278.8 667.6 L277.6 669.7 L275.5 670.9 L272.2 670.3 L268.9 671.6 L266.5 672.8 L264.9 674.9 L261.6 676.2 L260.4 674.4 L258.9 672.9 L257.9 670.7 L256.2 668.9 L254.1 667.3 L252.9 665 L252 662.1 L250.3 659.6 L248.7 657.2 L248.3 654.3 L248.1 652 L246.9 649.9 L246.3 647.7 L245.4 645.1 L245 642.4 L244.1 640.4 L243 638.4 L242.6 635.5 L241 633.1 L241 631.1 L241.6 629.1 L239.9 628.2 L239 626.5 L236.3 624.5 L233.7 625.8 L232 627.4 L230.4 629.1 L229.4 631.3 L227.7 633.1 L225.8 634 L223.7 633.8 L221.2 634.9 L218.4 635.1 L215.5 634.7 L213.1 633.1 L210.9 633.5 L208.7 633.4 L206.5 633.1 L204.2 633.1 L202.1 632.3 L199.8 632.4 L197.1 632 L194.5 631.1 L192.5 631.4 L190.5 631.8 L193.2 633.8 L194.8 635.1 L195.6 637 L195.2 640.4 L191.9 641 L189.7 641.7 L187.6 642.6 L185.2 642.4 L182.6 643.4 L179.9 643.7 L177.2 644 L174.6 643 L172.7 643.9 L171 645.2 L169.3 646.4 L167.6 648.7 L165.3 650.4 L162.7 651.4 L160 652.3 L157.8 652.6 L156.2 654.6 L154 655 L151.9 655.2 L150 656.4 L148 657 L146.3 658.7 L144.3 660 L143 662 L142.5 664 L141.7 666 L141 668 L139.8 669.9 L138.4 671.7 L138 674 L138.2 676.5 L138 679 L139.2 680.8 L141 682 L143.6 683.3 L146.4 684 L145 685.9 L144 688 L143.1 690.1 L142.2 692.1 L141 694 L140 696.8 L138 699 L136.2 700.2 L134.2 701.1 L131.9 700.9 L130 702 L127.4 703 L124.8 703.8 L122 704 L120.4 706.4 L118 708 L116 709.3 L114.3 711 L113 713 L110.6 713.8 L108.5 715.3 L106 716 L104.7 717.6 L103 718.6 L100.4 718.1 L98 717 L95.7 716.8 L93.4 717 L91.2 716.3 L89 716 L86.7 715.8 L84.6 714.4 L82.4 713.9 L80 714 L77.3 713.9 L74.7 714.4 L72 714 L69.3 713.3 L66.7 714.3 L64 714 L61.7 715.2 L59.6 716.6 L57 717 L55.5 715.1 L54.3 713 L53 711 L53.3 708.7 L53.3 706.3 L54 704 L55.3 702 L56.1 699.6 L58 698 L58 695.3 L58.1 692.6 L59 690 L58.2 688 L57.1 686.2 L57 684 L55.1 682.4 L54.1 680.2 L53 678 L51.7 676.2 L51.1 673.9 L50 672 L49 670 L48.7 667.6 L47.9 665.3 L47 663 L45.9 660.8 L44.8 658.7 L43 657 L41.2 655.4 L39.5 653.8 L38 652 L36.4 650.1 L33.7 649.7 L32 648 L31.3 645.9 L30.2 643.9 L29 642 L28 639.8 L28.8 637.3 L28 635 L29.9 633.3 L31 631 L33.1 630.2 L35 629 L34 626 L35.3 623.6 L36 621 L38.2 620.4 L39.8 618.5 L42 618 L44.7 617.7 L47.3 617.3 L50 617 L52.2 616.4 L54.2 615.4 L56 614 L58.8 613.8 L61.4 612.8 L64 612 L66.3 613 L68.7 613.3 L71.1 613.8 L73.6 614 L74 611 L71.7 609.3 L70 607 L67.8 606 L66.2 604.4 L64.6 602.6 L63 601 L61.1 599.3 L60.4 596.7 L58.6 595 L57 593 L55.9 591.1 L54.6 589.4 L53.5 587.6 L52 586 L51 584.5 L50 583 L48.2 581.7 L47.8 579.3 L46.5 577.5 L45 576 L44 574 L43 572 L42 570 L40.8 568.2 L38.9 567 L38 565 L37 562.5 L35 560.5 L34 558 L32.3 556.6 L31.2 554.7 L30.5 552.6 L29 551 L28.1 548.6 L28 546 L29.3 543.6 L30 541 L28.3 539.4 L26 539 L24.5 538 L23 537 L24.4 535.9 L26 535 L27 533 L28 531 L26 530.4 L24.1 530 L22 530 L21.4 527.9 L20.4 526 L20.9 523.3 L21 520.6 L23.1 520.2 L25 521 L26.9 522.7 L28 525 L30.2 525.7 L31.8 527.3 L34 528 L36.1 528.5 L38 529.7 L40 530.4 L42.6 529.5 L45.3 529.3 L48 529.6 L50.3 529.1 L52.7 529.4 L55 529 L56.2 527.4 L57 525.6 L59.4 525.6 L61.6 524.9 L64 525 L66 524.4 L68 523.6 L70 523 L69.6 520.3 L68.8 517.7 L69 515 L68.9 512.5 L67.3 510.4 L67 508 L65.3 506.2 L63 505.6 L61.3 503.8 L59 503 L58 501.1 L58.3 499 L58 497 L57.4 494.3 L56 492 L55.1 489.2 L53 487 L55.7 487.3 L58.4 487.3 L61 488 L62.2 486.2 L64 485 L66.1 483.8 L67 481.4 L69 480 L71.5 479.3 L74 478.4 L75.9 477.4 L78 477.5 L80 477 L81.9 475.4 L82.2 472.7 L84 471 L86.3 469.9 L88 468 L88.3 466 L89.2 464.1 L89 462 L88.6 459.3 L87.3 456.8 L87 454 L87.6 451.3 L87 448.7 L87 446 L84.7 445.6 L83 444 L81 443 L80 441 L81.5 438.5 L83 436 L84.3 434 L85.4 431.8 L87 430 L87.8 428 L89.3 426.4 L90.5 424.6 L92 423 L92.5 420.7 L92 418.4 L89.4 418.1 L87.5 416.2 L85 415.6 L82.9 414.5 L80.4 414.8 L78.4 413.1 L76 413 L74.1 412 L72.2 411 L69.9 411 L68 410 L66 409.2 L64.2 408.1 L62.4 407 L64.3 404.8 L65 402 L66.7 400.8 L68.2 399.2 L70 398 L72.3 396.6 L74.5 395.1 L77 394 L79.1 392.6 L81.5 391.9 L84 391.6 L86.2 391.2 L87.9 389.6 L90 389 L92.8 388.9 L95.2 387.3 L98 387 L99.9 385.8 L102 385.3 L104 384.4 L106.2 383.2 L108.6 382.6 L111 382 L112.6 379.7 L113 377 L112.1 374.4 L110.7 372.1 L109 370 L107.9 367.7 L107 365.2 L105.8 363 L104 361 L102.8 359 L101.8 356.8 L99.7 355.3 L99 353 L98.3 350.7 L96.9 348.6 L96 346.4 L98.3 347 L100.6 347 L103 347 L105.7 348.2 L108 350 L109.7 348.4 L112.3 348.5 L114 347 L115.7 345.4 L118 344.7 L120 343.6 L122 343.5 L124 343.6 L126 344 L128.1 343.8 L130 343 L131 341.1 L130.3 338.9 L131 337 L132.2 335.1 L132.8 332.9 L134 331 L135.4 329.4 L136.6 327.6 L138 326 L140.3 324.1 L143 323 L144.7 321.3 L146.8 320 L149 319 L151.3 318.1 L153 316.3 L155 315 L156.7 313 L159 311.6 L161.5 312.4 L164 312 L165.6 314.1 L168 315 L169.6 317 L171 319 L173.4 320.6 L175 323 L176.9 322.1 L179 322 L180 319.2 L182 317 L183.2 315.2 L184.2 313.3 L186 312 L186 309.9 L186.3 307.9 L187 306 L185.3 304.9 L183.6 304 L182.4 301 L184.3 300.1 L185.7 298.6 L187 297 L188.2 294.9 L189.6 292.9 L191 291 L193 289.7 L194.9 288.2 L197 287 L198.9 285.5 L200.7 283.8 L203 283 L204.8 281.1 L207 279.6 L209.4 280.1 L211.6 278.7 L214 279 L216.3 278.3 L218.7 277.8 L221 277 L223.3 275.7 L225 273.6 L227.3 273.2 L229.7 273.3 L232 273.6 L234.2 275.3 L236 277.5 L239 278 L241 277.2 L243 276.6 L245 276 L247.3 275.6 L249.2 274.4 L251 273 L253.8 271.9 L256 270 L256.8 267.9 L258.2 266.3 L260 265 L261.3 262.6 L262 260 L264.6 260 L267 259 L268.1 257 L269.4 255.1 L270.4 253 L269.3 251.2 L269.3 249 L269 247 L269.6 244.7 L269.5 242.3 L269 240 L271.3 238.9 L273 237 L274.1 234.6 L274 232 L275.2 230 L277 228.4 L279.1 228.2 L281 229 L283 230.3 L284.3 232.4 L286 234 L288.6 234.8 L291.2 235.7 L294 235.6 L296.3 236.4 L298.6 236.7 L301 237 L303.1 236.9 L305 236 L307 235.6 L309 235.8 L311 235.2 L313 236 L314.8 237.4 L317.2 237.7 L319 239 L320.9 237.9 L322 236 L324.5 236.2 L327 236 L329.6 237.3 L332 239 L334.7 239.8 L337 241.6 L338.1 239.8 L339.8 238.7 L341 237 L343.6 236.3 L346 235 L347.7 233.2 L349.7 231.8 L352 231 L354.3 230.7 L356.7 230.4 L359 230 L360.5 227.9 L362 225.8 L364 224 L365.5 221.7 L366.1 219 L368 217 L367.7 214.7 L367.9 212.3 L368 210 L370.6 210.1 L373 209 L374.2 207.1 L375.5 205.2 L376 203 L377.3 201.3 L378.4 199.4 L380 198 L381.2 195.3 L383 193 L385.8 192.1 L388 190 L390.2 188.9 L391.9 187.1 L394 186 L396.2 185 L398.7 185.3 L401 185 L402.8 183.9 L404.3 182.2Z" fill="none" stroke="#343434" stroke-width="2" stroke-linejoin="round"/>
<polygon points="482.5,108.1 483.3,110.4 485.7,110.4 483.8,111.9 484.5,114.3 482.5,112.9 480.5,114.3 481.2,111.9 479.3,110.4 481.7,110.4" fill="#fff" stroke="#222" stroke-width="0.8"/>
<polygon points="490,258.6 490.8,260.9 493.2,260.9 491.3,262.4 492,264.8 490,263.4 488,264.8 488.7,262.4 486.8,260.9 489.2,260.9" fill="#fff" stroke="#222" stroke-width="0.8"/>
<polygon points="373,423.6 373.8,425.9 376.2,425.9 374.3,427.4 375,429.8 373,428.4 371,429.8 371.7,427.4 369.8,425.9 372.2,425.9" fill="#fff" stroke="#222" stroke-width="0.8"/>
<polygon points="215,579.6 215.8,581.9 218.2,581.9 216.3,583.4 217,585.8 215,584.4 213,585.8 213.7,583.4 211.8,581.9 214.2,581.9" fill="#fff" stroke="#222" stroke-width="0.8"/>
<polygon points="364,253.6 364.8,255.9 367.2,255.9 365.3,257.4 366,259.8 364,258.4 362,259.8 362.7,257.4 360.8,255.9 363.2,255.9" fill="#fff" stroke="#222" stroke-width="0.8"/>
<polygon points="270,464.6 270.8,466.9 273.2,466.9 271.3,468.4 272,470.8 270,469.4 268,470.8 268.7,468.4 266.8,466.9 269.2,466.9" fill="#fff" stroke="#222" stroke-width="0.8"/>
<polygon points="465,338.6 465.8,340.9 468.2,340.9 466.3,342.4 467,344.8 465,343.4 463,344.8 463.7,342.4 461.8,340.9 464.2,340.9" fill="#fff" stroke="#222" stroke-width="0.8"/>
<polygon points="127,665.6 127.8,667.9 130.2,667.9 128.3,669.4 129,671.8 127,670.4 125,671.8 125.7,669.4 123.8,667.9 126.2,667.9" fill="#fff" stroke="#222" stroke-width="0.8"/>
</g>
<g stroke="#000" stroke-width="1" stroke-dasharray="3 3" shape-rendering="crispEdges">
<line x1="61.5" y1="34" x2="61.5" y2="725"/>
<line x1="141.5" y1="34" x2="141.5" y2="725"/>
<line x1="221.5" y1="34" x2="221.5" y2="725"/>
<line x1="301.5" y1="34" x2="301.5" y2="725"/>
<line x1="381.5" y1="34" x2="381.5" y2="725"/>
<line x1="541.5" y1="34" x2="541.5" y2="725"/>
<line x1="621.5" y1="34" x2="621.5" y2="725"/>
<line x1="5" y1="88.5" x2="676" y2="88.5"/>
<line x1="5" y1="248.5" x2="676" y2="248.5"/>
<line x1="5" y1="328.5" x2="676" y2="328.5"/>
<line x1="5" y1="408.5" x2="676" y2="408.5"/>
<line x1="5" y1="488.5" x2="676" y2="488.5"/>
<line x1="5" y1="568.5" x2="676" y2="568.5"/>
<line x1="5" y1="648.5" x2="676" y2="648.5"/>
</g>
<g stroke="#000" stroke-width="2" shape-rendering="crispEdges" fill="none">
<line x1="462" y1="32" x2="462" y2="725"/>
<line x1="5" y1="169" x2="676" y2="169"/>
<rect x="5" y="32" width="671" height="693.5"/>
</g>
<g font-size="20" fill="#000">
<text x="13.5" y="81.8">1</text>
<text x="13.5" y="161.8">0</text>
<text x="13.5" y="241.8">9</text>
<text x="13.5" y="321.8">8</text>
<text x="13.5" y="401.8">7</text>
<text x="13.5" y="481.8">6</text>
<text x="13.5" y="561.8">5</text>
<text x="13.5" y="641.8">4</text>
<text x="69.3" y="718.3">5</text>
<text x="149.3" y="718.3">6</text>
<text x="229.3" y="718.3">7</text>
<text x="309.3" y="718.3">8</text>
<text x="389.3" y="718.3">9</text>
<text x="469.3" y="718.3">0</text>
<text x="549.3" y="718.3">1</text>
<text x="629.3" y="718.3">2</text>
</g>
<g font-size="23" fill="#e0101a">
<text x="12" y="55.8">SK</text><text x="464.3" y="55.8">TF</text><text x="12" y="673.2">SP</text><text x="468" y="671.8">TL</text>
</g>
<g fill="#22bdf0" shape-rendering="crispEdges">
<rect x="622" y="89" width="15" height="16"/>
<rect x="574" y="121" width="15" height="16"/>
<rect x="558" y="137" width="15" height="16"/>
<rect x="590" y="169" width="15" height="16"/>
<rect x="606" y="169" width="15" height="16"/>
<rect x="366" y="249" width="15" height="16"/>
<rect x="510" y="249" width="15" height="16"/>
<rect x="270" y="265" width="15" height="16"/>
<rect x="414" y="281" width="15" height="16"/>
<rect x="462" y="281" width="15" height="16"/>
<rect x="350" y="297" width="15" height="16"/>
<rect x="398" y="297" width="15" height="16"/>
<rect x="398" y="313" width="15" height="16"/>
<rect x="350" y="329" width="15" height="16"/>
<rect x="254" y="345" width="15" height="16"/>
<rect x="286" y="345" width="15" height="16"/>
<rect x="350" y="345" width="15" height="16"/>
<rect x="318" y="361" width="15" height="16"/>
<rect x="318" y="409" width="15" height="16"/>
<rect x="382" y="425" width="15" height="16"/>
<rect x="254" y="441" width="15" height="16"/>
<rect x="350" y="489" width="15" height="16"/>
<rect x="286" y="537" width="15" height="16"/>
<rect x="270" y="649" width="15" height="16"/>
</g>
<g fill="#ffff00">
<circle cx="469.5" cy="128.6" r="6.6"/>
<circle cx="565.5" cy="128.6" r="6.6"/>
<circle cx="469.5" cy="144.6" r="6.6"/>
<circle cx="485.5" cy="144.6" r="6.6"/>
<circle cx="549.5" cy="144.6" r="6.6"/>
<circle cx="581.5" cy="144.6" r="6.6"/>
<circle cx="597.5" cy="144.6" r="6.6"/>
<circle cx="469.5" cy="160.6" r="6.6"/>
<circle cx="549.5" cy="160.6" r="6.6"/>
<circle cx="565.5" cy="160.6" r="6.6"/>
<circle cx="597.5" cy="160.6" r="6.6"/>
<circle cx="453.5" cy="176.6" r="6.6"/>
<circle cx="581.5" cy="176.6" r="6.6"/>
<circle cx="597.5" cy="176.6" r="6.6"/>
<circle cx="613.5" cy="176.6" r="6.6"/>
<circle cx="453.5" cy="192.6" r="6.6"/>
<circle cx="469.5" cy="240.6" r="6.6"/>
<circle cx="533.5" cy="240.6" r="6.6"/>
<circle cx="453.5" cy="256.6" r="6.6"/>
<circle cx="245.5" cy="272.6" r="6.6"/>
<circle cx="517.5" cy="272.6" r="6.6"/>
<circle cx="293.5" cy="288.6" r="6.6"/>
<circle cx="389.5" cy="288.6" r="6.6"/>
<circle cx="341.5" cy="304.6" r="6.6"/>
<circle cx="197.5" cy="320.6" r="6.6"/>
<circle cx="357.5" cy="320.6" r="6.6"/>
<circle cx="245.5" cy="336.6" r="6.6"/>
<circle cx="229.5" cy="368.6" r="6.6"/>
<circle cx="293.5" cy="400.6" r="6.6"/>
<circle cx="261.5" cy="416.6" r="6.6"/>
<circle cx="309.5" cy="432.6" r="6.6"/>
<circle cx="373.5" cy="432.6" r="6.6"/>
<circle cx="389.5" cy="432.6" r="6.6"/>
<circle cx="421.5" cy="432.6" r="6.6"/>
<circle cx="245.5" cy="448.6" r="6.6"/>
<circle cx="261.5" cy="448.6" r="6.6"/>
<circle cx="277.5" cy="448.6" r="6.6"/>
<circle cx="293.5" cy="448.6" r="6.6"/>
<circle cx="421.5" cy="448.6" r="6.6"/>
<circle cx="117.5" cy="464.6" r="6.6"/>
<circle cx="261.5" cy="464.6" r="6.6"/>
<circle cx="277.5" cy="464.6" r="6.6"/>
<circle cx="309.5" cy="464.6" r="6.6"/>
<circle cx="389.5" cy="464.6" r="6.6"/>
<circle cx="341.5" cy="496.6" r="6.6"/>
<circle cx="341.5" cy="512.6" r="6.6"/>
<circle cx="373.5" cy="512.6" r="6.6"/>
<circle cx="341.5" cy="528.6" r="6.6"/>
<circle cx="357.5" cy="528.6" r="6.6"/>
<circle cx="293.5" cy="544.6" r="6.6"/>
<circle cx="309.5" cy="544.6" r="6.6"/>
<circle cx="293.5" cy="560.6" r="6.6"/>
<circle cx="309.5" cy="560.6" r="6.6"/>
<circle cx="101.5" cy="624.6" r="6.6"/>
<circle cx="181.5" cy="624.6" r="6.6"/>
<circle cx="261.5" cy="656.6" r="6.6"/>
</g>
<g fill="#ee1111">
<path d="M627.95 90.3h3.1v4.3h4.95v4.2h-4.95v4.2h-3.1v-4.2h-4.95v-4.2h4.95z"/>
<path d="M547.95 106.3h3.1v4.3h4.95v4.2h-4.95v4.2h-3.1v-4.2h-4.95v-4.2h4.95z"/>
<path d="M627.95 106.3h3.1v4.3h4.95v4.2h-4.95v4.2h-3.1v-4.2h-4.95v-4.2h4.95z"/>
<path d="M515.95 122.3h3.1v4.3h4.95v4.2h-4.95v4.2h-3.1v-4.2h-4.95v-4.2h4.95z"/>
<path d="M563.95 122.3h3.1v4.3h4.95v4.2h-4.95v4.2h-3.1v-4.2h-4.95v-4.2h4.95z"/>
<path d="M595.95 122.3h3.1v4.3h4.95v4.2h-4.95v4.2h-3.1v-4.2h-4.95v-4.2h4.95z"/>
<path d="M547.95 138.29999999999998h3.1v4.3h4.95v4.2h-4.95v4.2h-3.1v-4.2h-4.95v-4.2h4.95z"/>
<path d="M595.95 138.29999999999998h3.1v4.3h4.95v4.2h-4.95v4.2h-3.1v-4.2h-4.95v-4.2h4.95z"/>
<path d="M627.95 138.29999999999998h3.1v4.3h4.95v4.2h-4.95v4.2h-3.1v-4.2h-4.95v-4.2h4.95z"/>
<path d="M467.95 154.29999999999998h3.1v4.3h4.95v4.2h-4.95v4.2h-3.1v-4.2h-4.95v-4.2h4.95z"/>
<path d="M547.95 154.29999999999998h3.1v4.3h4.95v4.2h-4.95v4.2h-3.1v-4.2h-4.95v-4.2h4.95z"/>
<path d="M563.95 154.29999999999998h3.1v4.3h4.95v4.2h-4.95v4.2h-3.1v-4.2h-4.95v-4.2h4.95z"/>
<path d="M627.95 154.29999999999998h3.1v4.3h4.95v4.2h-4.95v4.2h-3.1v-4.2h-4.95v-4.2h4.95z"/>
<path d="M435.95 170.29999999999998h3.1v4.3h4.95v4.2h-4.95v4.2h-3.1v-4.2h-4.95v-4.2h4.95z"/>
<path d="M451.95 170.29999999999998h3.1v4.3h4.95v4.2h-4.95v4.2h-3.1v-4.2h-4.95v-4.2h4.95z"/>
<path d="M499.95 170.29999999999998h3.1v4.3h4.95v4.2h-4.95v4.2h-3.1v-4.2h-4.95v-4.2h4.95z"/>
<path d="M595.95 170.29999999999998h3.1v4.3h4.95v4.2h-4.95v4.2h-3.1v-4.2h-4.95v-4.2h4.95z"/>
<path d="M403.95 186.29999999999998h3.1v4.3h4.95v4.2h-4.95v4.2h-3.1v-4.2h-4.95v-4.2h4.95z"/>
<path d="M499.95 186.29999999999998h3.1v4.3h4.95v4.2h-4.95v4.2h-3.1v-4.2h-4.95v-4.2h4.95z"/>
<path d="M483.95 202.29999999999998h3.1v4.3h4.95v4.2h-4.95v4.2h-3.1v-4.2h-4.95v-4.2h4.95z"/>
<path d="M467.95 234.29999999999998h3.1v4.3h4.95v4.2h-4.95v4.2h-3.1v-4.2h-4.95v-4.2h4.95z"/>
<path d="M451.95 250.3h3.1v4.3h4.95v4.2h-4.95v4.2h-3.1v-4.2h-4.95v-4.2h4.95z"/>
<path d="M483.95 250.3h3.1v4.3h4.95v4.2h-4.95v4.2h-3.1v-4.2h-4.95v-4.2h4.95z"/>
<path d="M307.95 266.3h3.1v4.3h4.95v4.2h-4.95v4.2h-3.1v-4.2h-4.95v-4.2h4.95z"/>
<path d="M339.95 266.3h3.1v4.3h4.95v4.2h-4.95v4.2h-3.1v-4.2h-4.95v-4.2h4.95z"/>
<path d="M371.95 266.3h3.1v4.3h4.95v4.2h-4.95v4.2h-3.1v-4.2h-4.95v-4.2h4.95z"/>
<path d="M531.95 266.3h3.1v4.3h4.95v4.2h-4.95v4.2h-3.1v-4.2h-4.95v-4.2h4.95z"/>
<path d="M307.95 282.3h3.1v4.3h4.95v4.2h-4.95v4.2h-3.1v-4.2h-4.95v-4.2h4.95z"/>
<path d="M339.95 282.3h3.1v4.3h4.95v4.2h-4.95v4.2h-3.1v-4.2h-4.95v-4.2h4.95z"/>
<path d="M387.95 282.3h3.1v4.3h4.95v4.2h-4.95v4.2h-3.1v-4.2h-4.95v-4.2h4.95z"/>
<path d="M419.95 282.3h3.1v4.3h4.95v4.2h-4.95v4.2h-3.1v-4.2h-4.95v-4.2h4.95z"/>
<path d="M435.95 282.3h3.1v4.3h4.95v4.2h-4.95v4.2h-3.1v-4.2h-4.95v-4.2h4.95z"/>
<path d="M403.95 298.3h3.1v4.3h4.95v4.2h-4.95v4.2h-3.1v-4.2h-4.95v-4.2h4.95z"/>
<path d="M147.95 314.3h3.1v4.3h4.95v4.2h-4.95v4.2h-3.1v-4.2h-4.95v-4.2h4.95z"/>
<path d="M307.95 314.3h3.1v4.3h4.95v4.2h-4.95v4.2h-3.1v-4.2h-4.95v-4.2h4.95z"/>
<path d="M355.95 314.3h3.1v4.3h4.95v4.2h-4.95v4.2h-3.1v-4.2h-4.95v-4.2h4.95z"/>
<path d="M387.95 314.3h3.1v4.3h4.95v4.2h-4.95v4.2h-3.1v-4.2h-4.95v-4.2h4.95z"/>
<path d="M403.95 314.3h3.1v4.3h4.95v4.2h-4.95v4.2h-3.1v-4.2h-4.95v-4.2h4.95z"/>
<path d="M243.95 330.3h3.1v4.3h4.95v4.2h-4.95v4.2h-3.1v-4.2h-4.95v-4.2h4.95z"/>
<path d="M451.95 330.3h3.1v4.3h4.95v4.2h-4.95v4.2h-3.1v-4.2h-4.95v-4.2h4.95z"/>
<path d="M467.95 330.3h3.1v4.3h4.95v4.2h-4.95v4.2h-3.1v-4.2h-4.95v-4.2h4.95z"/>
<path d="M323.95 346.3h3.1v4.3h4.95v4.2h-4.95v4.2h-3.1v-4.2h-4.95v-4.2h4.95z"/>
<path d="M355.95 346.3h3.1v4.3h4.95v4.2h-4.95v4.2h-3.1v-4.2h-4.95v-4.2h4.95z"/>
<path d="M211.95 362.3h3.1v4.3h4.95v4.2h-4.95v4.2h-3.1v-4.2h-4.95v-4.2h4.95z"/>
<path d="M323.95 362.3h3.1v4.3h4.95v4.2h-4.95v4.2h-3.1v-4.2h-4.95v-4.2h4.95z"/>
<path d="M99.95 394.3h3.1v4.3h4.95v4.2h-4.95v4.2h-3.1v-4.2h-4.95v-4.2h4.95z"/>
<path d="M195.95 394.3h3.1v4.3h4.95v4.2h-4.95v4.2h-3.1v-4.2h-4.95v-4.2h4.95z"/>
<path d="M291.95 394.3h3.1v4.3h4.95v4.2h-4.95v4.2h-3.1v-4.2h-4.95v-4.2h4.95z"/>
<path d="M195.95 410.3h3.1v4.3h4.95v4.2h-4.95v4.2h-3.1v-4.2h-4.95v-4.2h4.95z"/>
<path d="M275.95 410.3h3.1v4.3h4.95v4.2h-4.95v4.2h-3.1v-4.2h-4.95v-4.2h4.95z"/>
<path d="M355.95 410.3h3.1v4.3h4.95v4.2h-4.95v4.2h-3.1v-4.2h-4.95v-4.2h4.95z"/>
<path d="M419.95 410.3h3.1v4.3h4.95v4.2h-4.95v4.2h-3.1v-4.2h-4.95v-4.2h4.95z"/>
<path d="M435.95 410.3h3.1v4.3h4.95v4.2h-4.95v4.2h-3.1v-4.2h-4.95v-4.2h4.95z"/>
<path d="M451.95 410.3h3.1v4.3h4.95v4.2h-4.95v4.2h-3.1v-4.2h-4.95v-4.2h4.95z"/>
<path d="M163.95 426.3h3.1v4.3h4.95v4.2h-4.95v4.2h-3.1v-4.2h-4.95v-4.2h4.95z"/>
<path d="M371.95 426.3h3.1v4.3h4.95v4.2h-4.95v4.2h-3.1v-4.2h-4.95v-4.2h4.95z"/>
<path d="M387.95 426.3h3.1v4.3h4.95v4.2h-4.95v4.2h-3.1v-4.2h-4.95v-4.2h4.95z"/>
<path d="M211.95 442.3h3.1v4.3h4.95v4.2h-4.95v4.2h-3.1v-4.2h-4.95v-4.2h4.95z"/>
<path d="M291.95 442.3h3.1v4.3h4.95v4.2h-4.95v4.2h-3.1v-4.2h-4.95v-4.2h4.95z"/>
<path d="M323.95 442.3h3.1v4.3h4.95v4.2h-4.95v4.2h-3.1v-4.2h-4.95v-4.2h4.95z"/>
<path d="M387.95 442.3h3.1v4.3h4.95v4.2h-4.95v4.2h-3.1v-4.2h-4.95v-4.2h4.95z"/>
<path d="M259.95 458.3h3.1v4.3h4.95v4.2h-4.95v4.2h-3.1v-4.2h-4.95v-4.2h4.95z"/>
<path d="M275.95 458.3h3.1v4.3h4.95v4.2h-4.95v4.2h-3.1v-4.2h-4.95v-4.2h4.95z"/>
<path d="M307.95 458.3h3.1v4.3h4.95v4.2h-4.95v4.2h-3.1v-4.2h-4.95v-4.2h4.95z"/>
<path d="M83.95 474.3h3.1v4.3h4.95v4.2h-4.95v4.2h-3.1v-4.2h-4.95v-4.2h4.95z"/>
<path d="M211.95 474.3h3.1v4.3h4.95v4.2h-4.95v4.2h-3.1v-4.2h-4.95v-4.2h4.95z"/>
<path d="M243.95 474.3h3.1v4.3h4.95v4.2h-4.95v4.2h-3.1v-4.2h-4.95v-4.2h4.95z"/>
<path d="M323.95 474.3h3.1v4.3h4.95v4.2h-4.95v4.2h-3.1v-4.2h-4.95v-4.2h4.95z"/>
<path d="M179.95 490.3h3.1v4.3h4.95v4.2h-4.95v4.2h-3.1v-4.2h-4.95v-4.2h4.95z"/>
<path d="M259.95 490.3h3.1v4.3h4.95v4.2h-4.95v4.2h-3.1v-4.2h-4.95v-4.2h4.95z"/>
<path d="M387.95 490.3h3.1v4.3h4.95v4.2h-4.95v4.2h-3.1v-4.2h-4.95v-4.2h4.95z"/>
<path d="M131.95 506.3h3.1v4.3h4.95v4.2h-4.95v4.2h-3.1v-4.2h-4.95v-4.2h4.95z"/>
<path d="M259.95 506.3h3.1v4.3h4.95v4.2h-4.95v4.2h-3.1v-4.2h-4.95v-4.2h4.95z"/>
<path d="M323.95 506.3h3.1v4.3h4.95v4.2h-4.95v4.2h-3.1v-4.2h-4.95v-4.2h4.95z"/>
<path d="M339.95 506.3h3.1v4.3h4.95v4.2h-4.95v4.2h-3.1v-4.2h-4.95v-4.2h4.95z"/>
<path d="M147.95 522.3000000000001h3.1v4.3h4.95v4.2h-4.95v4.2h-3.1v-4.2h-4.95v-4.2h4.95z"/>
<path d="M259.95 522.3000000000001h3.1v4.3h4.95v4.2h-4.95v4.2h-3.1v-4.2h-4.95v-4.2h4.95z"/>
<path d="M323.95 522.3000000000001h3.1v4.3h4.95v4.2h-4.95v4.2h-3.1v-4.2h-4.95v-4.2h4.95z"/>
<path d="M339.95 522.3000000000001h3.1v4.3h4.95v4.2h-4.95v4.2h-3.1v-4.2h-4.95v-4.2h4.95z"/>
<path d="M51.95 538.3000000000001h3.1v4.3h4.95v4.2h-4.95v4.2h-3.1v-4.2h-4.95v-4.2h4.95z"/>
<path d="M179.95 538.3000000000001h3.1v4.3h4.95v4.2h-4.95v4.2h-3.1v-4.2h-4.95v-4.2h4.95z"/>
<path d="M307.95 538.3000000000001h3.1v4.3h4.95v4.2h-4.95v4.2h-3.1v-4.2h-4.95v-4.2h4.95z"/>
<path d="M323.95 538.3000000000001h3.1v4.3h4.95v4.2h-4.95v4.2h-3.1v-4.2h-4.95v-4.2h4.95z"/>
<path d="M339.95 538.3000000000001h3.1v4.3h4.95v4.2h-4.95v4.2h-3.1v-4.2h-4.95v-4.2h4.95z"/>
<path d="M131.95 554.3000000000001h3.1v4.3h4.95v4.2h-4.95v4.2h-3.1v-4.2h-4.95v-4.2h4.95z"/>
<path d="M195.95 554.3000000000001h3.1v4.3h4.95v4.2h-4.95v4.2h-3.1v-4.2h-4.95v-4.2h4.95z"/>
<path d="M307.95 554.3000000000001h3.1v4.3h4.95v4.2h-4.95v4.2h-3.1v-4.2h-4.95v-4.2h4.95z"/>
<path d="M211.95 570.3000000000001h3.1v4.3h4.95v4.2h-4.95v4.2h-3.1v-4.2h-4.95v-4.2h4.95z"/>
<path d="M211.95 586.3000000000001h3.1v4.3h4.95v4.2h-4.95v4.2h-3.1v-4.2h-4.95v-4.2h4.95z"/>
<path d="M179.95 602.3000000000001h3.1v4.3h4.95v4.2h-4.95v4.2h-3.1v-4.2h-4.95v-4.2h4.95z"/>
<path d="M195.95 602.3000000000001h3.1v4.3h4.95v4.2h-4.95v4.2h-3.1v-4.2h-4.95v-4.2h4.95z"/>
<path d="M99.95 618.3000000000001h3.1v4.3h4.95v4.2h-4.95v4.2h-3.1v-4.2h-4.95v-4.2h4.95z"/>
<path d="M67.95 634.3000000000001h3.1v4.3h4.95v4.2h-4.95v4.2h-3.1v-4.2h-4.95v-4.2h4.95z"/>
<path d="M83.95 634.3000000000001h3.1v4.3h4.95v4.2h-4.95v4.2h-3.1v-4.2h-4.95v-4.2h4.95z"/>
<path d="M147.95 634.3000000000001h3.1v4.3h4.95v4.2h-4.95v4.2h-3.1v-4.2h-4.95v-4.2h4.95z"/>
<path d="M275.95 634.3000000000001h3.1v4.3h4.95v4.2h-4.95v4.2h-3.1v-4.2h-4.95v-4.2h4.95z"/>
<path d="M131.95 650.3000000000001h3.1v4.3h4.95v4.2h-4.95v4.2h-3.1v-4.2h-4.95v-4.2h4.95z"/>
<path d="M131.95 666.3000000000001h3.1v4.3h4.95v4.2h-4.95v4.2h-3.1v-4.2h-4.95v-4.2h4.95z"/>
<path d="M131.95 682.3000000000001h3.1v4.3h4.95v4.2h-4.95v4.2h-3.1v-4.2h-4.95v-4.2h4.95z"/>
</g>
<g fill="#6db321" opacity="0.92">
<polygon points="551.5,154 554,152 557.5,153 559,157 558.5,162 557,166 553.5,167 551.5,165 553.5,161 552,158"/>
</g>
<text transform="translate(680,63.9) scale(1,1.02)" font-size="34.5">Key:</text>
<rect x="689" y="79" width="13" height="13" fill="#22bdf0"/>
<circle cx="696.4" cy="115.2" r="6.6" fill="#ffff00"/>
<path fill="#ee1111" d="M694.7 138.0h3.6v4.6h4.6v3.6h-4.6v4.6h-3.6v-4.6h-4.6v-3.6h4.6z"/>
<g font-size="21">
<text x="711.8" y="91" word-spacing="0.3">Records Prior to 1980</text>
<text x="712.3" y="120" word-spacing="1">Records 1980 - 1999</text>
<text x="712.3" y="149.5" word-spacing="-0.75">Records Since 2000</text>
<text x="683.6" y="229.5">First Recorded in 1882</text>
<text x="684.4" y="257" word-spacing="-0.87">Last Recorded in 2024</text>
<text x="686" y="285">891 Records</text>
<text x="685" y="313" word-spacing="-0.8">Status: LC</text>
</g>
<text transform="translate(684.4,202.6) scale(1,1.02)" font-size="34.5">Useful Data:</text>
<text transform="translate(684.6,395.1) scale(1,1.02)" font-size="34.5" letter-spacing="0.13">Flight Period:</text>
<g shape-rendering="crispEdges" fill="none" stroke="#000" stroke-width="1">
<rect x="684.5" y="408.5" width="438" height="318"/>
<line x1="684" y1="689.5" x2="1123" y2="689.5"/>
<line x1="720.5" y1="690" x2="720.5" y2="697"/>
<line x1="757.5" y1="690" x2="757.5" y2="697"/>
<line x1="793.5" y1="690" x2="793.5" y2="697"/>
<line x1="830.5" y1="690" x2="830.5" y2="697"/>
<line x1="866.5" y1="690" x2="866.5" y2="697"/>
<line x1="903.5" y1="690" x2="903.5" y2="697"/>
<line x1="939.5" y1="690" x2="939.5" y2="697"/>
<line x1="976.5" y1="690" x2="976.5" y2="697"/>
<line x1="1012.5" y1="690" x2="1012.5" y2="697"/>
<line x1="1049.5" y1="690" x2="1049.5" y2="697"/>
<line x1="1085.5" y1="690" x2="1085.5" y2="697"/>
<rect x="827.5" y="682.5" width="9.0" height="7.0" fill="#fff"/>
<rect x="836.5" y="676.5" width="8.0" height="13.0" fill="#fff"/>
<rect x="844.5" y="651.5" width="8.0" height="38.0" fill="#fff"/>
<rect x="852.5" y="581.5" width="9.0" height="108.0" fill="#fff"/>
<rect x="861.5" y="504.5" width="8.0" height="185.0" fill="#fff"/>
<rect x="869.5" y="527.5" width="9.0" height="162.0" fill="#fff"/>
<rect x="878.5" y="448.5" width="8.0" height="241.0" fill="#fff"/>
<rect x="886.5" y="514.5" width="9.0" height="175.0" fill="#fff"/>
<rect x="895.5" y="508.5" width="8.0" height="181.0" fill="#fff"/>
<rect x="903.5" y="597.5" width="8.0" height="92.0" fill="#fff"/>
<rect x="911.5" y="649.5" width="9.0" height="40.0" fill="#fff"/>
<rect x="920.5" y="668.5" width="8.0" height="21.0" fill="#fff"/>
<rect x="928.5" y="678.5" width="9.0" height="11.0" fill="#fff"/>
<rect x="937.5" y="678.5" width="8.0" height="11.0" fill="#fff"/>
<rect x="945.5" y="676.5" width="9.0" height="13.0" fill="#fff"/>
<rect x="954.5" y="668.5" width="8.0" height="21.0" fill="#fff"/>
<rect x="962.5" y="680.5" width="8.0" height="9.0" fill="#fff"/>
<rect x="987.5" y="686.5" width="9.0" height="3.0" fill="#fff"/>
<rect x="1004.5" y="688.5" width="8.0" height="1.0" fill="#fff"/>
<rect x="1029.5" y="682.5" width="9.0" height="7.0" fill="#fff"/>
<rect x="1038.5" y="688.5" width="8.0" height="1.0" fill="#fff"/>
</g>
<g class="m" font-size="11.67" fill="#000">
<text class="m" x="692.6" y="424.8">Records max of 125 in week 24</text>
<text class="m" x="703.6" y="708.6" text-anchor="middle">Jan</text>
<text class="m" x="740.1" y="708.6" text-anchor="middle">Feb</text>
<text class="m" x="776.6" y="708.6" text-anchor="middle">Mar</text>
<text class="m" x="813.1" y="708.6" text-anchor="middle">Apr</text>
<text class="m" x="849.6" y="708.6" text-anchor="middle">May</text>
<text class="m" x="886.1" y="708.6" text-anchor="middle">Jun</text>
<text class="m" x="922.6" y="708.6" text-anchor="middle">Jly</text>
<text class="m" x="959.1" y="708.6" text-anchor="middle">Aug</text>
<text class="m" x="995.6" y="708.6" text-anchor="middle">Sep</text>
<text class="m" x="1032.2" y="708.6" text-anchor="middle">Oct</text>
<text class="m" x="1068.7" y="708.6" text-anchor="middle">Nov</text>
<text class="m" x="1105.2" y="708.6" text-anchor="middle">Dec</text>
</g>
</svg></body></html>
